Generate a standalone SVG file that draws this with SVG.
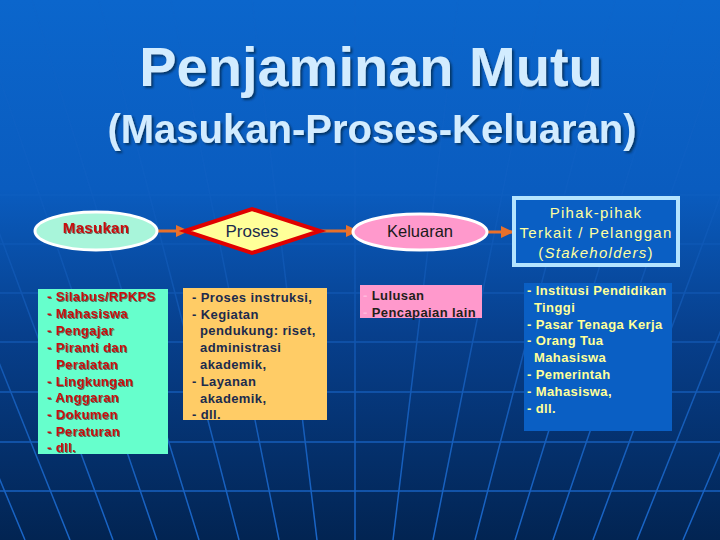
<svg xmlns="http://www.w3.org/2000/svg" width="720" height="540" viewBox="0 0 720 540">
<defs>
<linearGradient id="bg" x1="0" y1="0" x2="0" y2="1">
<stop offset="0" stop-color="#0b66cc"/>
<stop offset="0.35" stop-color="#0a5cbf"/>
<stop offset="0.62" stop-color="#073f8c"/>
<stop offset="1" stop-color="#022452"/>
</linearGradient>
<linearGradient id="fade" x1="0" y1="0" x2="0" y2="1">
<stop offset="0" stop-color="#fff" stop-opacity="0.08"/>
<stop offset="0.4" stop-color="#fff" stop-opacity="0.25"/>
<stop offset="0.75" stop-color="#fff" stop-opacity="0.8"/>
<stop offset="1" stop-color="#fff" stop-opacity="1"/>
</linearGradient>
<mask id="gm" maskUnits="userSpaceOnUse" x="0" y="0" width="720" height="540">
<rect width="720" height="540" fill="url(#fade)"/>
</mask>
<filter id="sh" x="-10%" y="-10%" width="130%" height="140%">
<feDropShadow dx="2" dy="2" stdDeviation="0.8" flood-color="#062040" flood-opacity="0.7"/>
</filter>
<filter id="sh2" x="-10%" y="-20%" width="130%" height="160%">
<feDropShadow dx="1" dy="1" stdDeviation="0.4" flood-color="#302020" flood-opacity="0.6"/>
</filter>
<marker id="ah" markerWidth="14" markerHeight="14" refX="12" refY="6" orient="auto" markerUnits="userSpaceOnUse">
<path d="M0,0 L13,6 L0,12 Z" fill="#e8702a"/>
</marker>
<style>
.t{font-family:"Liberation Sans",Arial,sans-serif;}
.title{fill:#d2ecff;text-anchor:middle;font-weight:bold;}
.li{font-size:13px;font-weight:bold;letter-spacing:0.4px;}
.grid{stroke:#1a66c8;stroke-width:1.5;fill:none;}
.conn{stroke:#e8702a;stroke-width:3;fill:none;}
</style>
</defs>
<rect width="720" height="540" fill="url(#bg)"/>
<g id="grid" class="grid" mask="url(#gm)">
<path d="M0,195 H720 M0,244 H720 M0,293 H720 M0,342 H720 M0,392 H720 M0,442 H720 M0,491 H720"/>
<path d="M355,540 V0 M317,540 L252,0 M279,540 L171,0 M239,540 L99,0 M199,540 L32,0 M157,540 L-27,0 M113,540 L-87,0 M70,540 L-146,0 M25,540 L-200,0 M393,540 L458,0 M433,540 L541,0 M475,540 L615,0 M515,540 L682,0 M553,540 L737,0 M593,540 L793,0 M637,540 L853,0 M683,540 L913,0"/>
</g>
<g id="title">
<text class="t title" x="371" y="86" font-size="56" filter="url(#sh)">Penjaminan Mutu</text>
<text class="t title" x="372" y="143" font-size="40" filter="url(#sh)">(Masukan-Proses-Keluaran)</text>
</g>
<g id="connectors">
<line class="conn" x1="157" y1="231" x2="188" y2="231" marker-end="url(#ah)"/>
<line class="conn" x1="320" y1="231" x2="358" y2="231" marker-end="url(#ah)"/>
<line class="conn" x1="487" y1="232" x2="513" y2="232" marker-end="url(#ah)"/>
</g>
<g id="masukan">
<ellipse cx="96" cy="231" rx="61" ry="19" fill="#a8f5da" stroke="#ffffff" stroke-width="3"/>
<text class="t" x="96" y="233" font-size="15" font-weight="bold" letter-spacing="0.3" fill="#c81010" text-anchor="middle" filter="url(#sh2)">Masukan</text>
</g>
<g id="masukan-list">
<rect x="38" y="289" width="130" height="165" fill="#66ffcc"/>
<g class="t li" fill="#c81010" filter="url(#sh2)">
<text x="47" y="301">- Silabus/RPKPS</text>
<text x="47" y="318">- Mahasiswa</text>
<text x="47" y="335">- Pengajar</text>
<text x="47" y="352">- Piranti dan</text>
<text x="56" y="369">Peralatan</text>
<text x="47" y="386">- Lingkungan</text>
<text x="47" y="402">- Anggaran</text>
<text x="47" y="419">- Dokumen</text>
<text x="47" y="436">- Peraturan</text>
<text x="47" y="452">- dll.</text>
</g>
</g>
<g id="proses">
<polygon points="185,231 252,209 320,231 252,253" fill="#ffff99" stroke="#e00000" stroke-width="4" stroke-linejoin="miter"/>
<text class="t" x="252" y="237" font-size="17" fill="#1c2b4d" text-anchor="middle">Proses</text>
</g>
<g id="proses-list">
<rect x="183" y="288" width="144" height="132" fill="#ffcc66"/>
<g class="t li" fill="#1c2b4d">
<text x="192" y="302">- Proses instruksi,</text>
<text x="192" y="319">- Kegiatan</text>
<text x="200" y="335">pendukung: riset,</text>
<text x="200" y="352">administrasi</text>
<text x="200" y="369">akademik,</text>
<text x="192" y="386">- Layanan</text>
<text x="200" y="403">akademik,</text>
<text x="192" y="419">- dll.</text>
</g>
</g>
<g id="keluaran">
<ellipse cx="420" cy="232" rx="67" ry="18" fill="#ff99cc" stroke="#ffffff" stroke-width="3"/>
<text class="t" x="420" y="237" font-size="16.5" fill="#1a1a1a" text-anchor="middle">Keluaran</text>
</g>
<g id="keluaran-list">
<rect x="360" y="285" width="122" height="33" fill="#ff99cc"/>
<g class="t li" fill="#1f1f1a">
<text x="363" y="300"><tspan fill="#ffb8dc">-</tspan> Lulusan</text>
<text x="363" y="317"><tspan fill="#ffb8dc">-</tspan> Pencapaian lain</text>
</g>
</g>
<g id="stakeholders">
<rect x="514" y="198" width="164" height="67" fill="#0a5fc4" stroke="#b4e4ff" stroke-width="4"/>
<g class="t" font-size="15" fill="#ffffa0" text-anchor="middle" letter-spacing="1.3">
<text x="596" y="218">Pihak-pihak</text>
<text x="596" y="238">Terkait / Pelanggan</text>
<text x="596" y="258">(<tspan font-style="italic">Stakeholders</tspan>)</text>
</g>
</g>
<g id="stakeholders-list">
<rect x="524" y="283" width="148" height="148" fill="#0a5fc4"/>
<g class="t li" fill="#ffff99">
<text x="527" y="295">- Institusi Pendidikan</text>
<text x="534" y="312">Tinggi</text>
<text x="527" y="329">- Pasar Tenaga Kerja</text>
<text x="527" y="345">- Orang Tua</text>
<text x="534" y="362">Mahasiswa</text>
<text x="527" y="379">- Pemerintah</text>
<text x="527" y="396">- Mahasiswa,</text>
<text x="527" y="413">- dll.</text>
</g>
</g>
</svg>
